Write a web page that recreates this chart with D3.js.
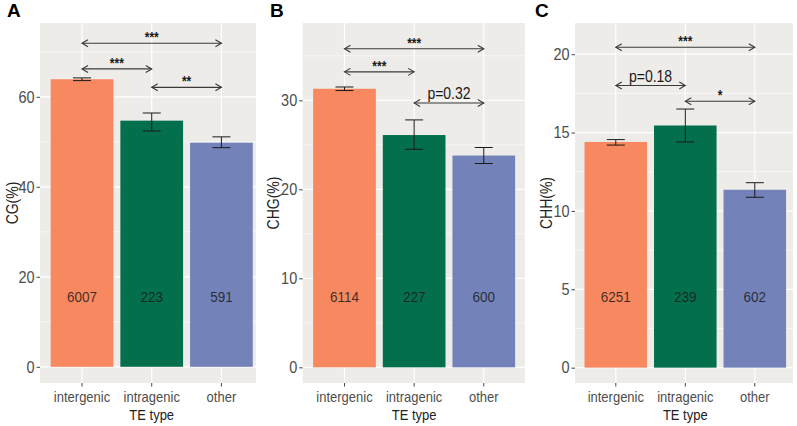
<!DOCTYPE html>
<html>
<head>
<meta charset="utf-8">
<script src="https://cdn.jsdelivr.net/npm/d3@7"></script>
<style>
  body { margin: 0; background: #fff; }
  text { font-family: "Liberation Sans", Arial, sans-serif; }
</style>
</head>
<body>
<div id="svg-container"></div>
<script>
// categorie e valori
var categories = ["intergenic", "intragenic", "other"];

var cgMean = [63.9, 54.7, 49.8];
var cgLow = [63.6, 52.4, 48.7];
var cgHigh = [64.2, 56.4, 51.1];
var cgCounts = [6007, 223, 591];
var cgTicks = [0, 20, 40, 60];
var cgSig = [
  { from: 0, to: 2, y: 71.9, label: "***" },
  { from: 0, to: 1, y: 66.2, label: "***" },
  { from: 1, to: 2, y: 62.1, label: "**" }
];

var chgMean = [31.3, 26.1, 23.8];
var chgLow = [31.1, 24.5, 22.9];
var chgHigh = [31.5, 27.8, 24.7];
var chgCounts = [6114, 227, 600];
var chgTicks = [0, 10, 20, 30];
var chgSig = [
  { from: 0, to: 2, y: 35.8, label: "***" },
  { from: 0, to: 1, y: 33.2, label: "***" },
  { from: 1, to: 2, y: 29.7, label: "p=0.32" }
];

var chhMean = [14.4, 15.45, 11.35];
var chhLow = [14.2, 14.4, 10.87];
var chhHigh = [14.55, 16.5, 11.8];
var chhCounts = [6251, 239, 602];
var chhTicks = [0, 5, 10, 15, 20];
var chhSig = [
  { from: 0, to: 2, y: 20.44, label: "***" },
  { from: 0, to: 1, y: 18.0, label: "p=0.18" },
  { from: 1, to: 2, y: 17.0, label: "*" }
];

var colors = ["#F7885F", "#046F4D", "#7383B9"];

var svg = d3.select("#svg-container")
  .append("svg")
  .attr("width", 797)
  .attr("height", 426);

// impostazioni dei tre pannelli
var panels = [
  { letter: "A", title: "CG(%)", mean: cgMean, low: cgLow, high: cgHigh, counts: cgCounts, ticks: cgTicks, sig: cgSig,
    domain: [-3.6, 76.4], left: 40, right: 256, start: 40.2, step: 69.7, letterX: 7, titleX: 18 },
  { letter: "B", title: "CHG(%)", mean: chgMean, low: chgLow, high: chgHigh, counts: chgCounts, ticks: chgTicks, sig: chgSig,
    domain: [-1.76, 38.69], left: 302.7, right: 525, start: 302.7, step: 69.65, letterX: 270, titleX: 279 },
  { letter: "C", title: "CHH(%)", mean: chhMean, low: chhLow, high: chhHigh, counts: chhCounts, ticks: chhTicks, sig: chhSig,
    domain: [-0.98, 21.99], left: 575, right: 793, start: 574.1, step: 69.5, letterX: 535, titleX: 552 }
];

var panelTop = 23, panelBottom = 383;
var stretch = "scale(1,1.15)"; // il testo nell'originale è un po' allungato in verticale

panels.forEach(function (p, pi) {
  var g = svg.append("g");

  var x = d3.scaleBand()
    .domain(categories)
    .range([p.start, p.start + p.step * 3.2])
    .paddingInner(0.1)
    .paddingOuter(0.15);

  var y = d3.scaleLinear()
    .domain(p.domain)
    .range([panelBottom, panelTop]);

  var clipId = "clip" + pi;
  g.append("clipPath").attr("id", clipId)
    .append("rect")
    .attr("x", p.left).attr("y", panelTop)
    .attr("width", p.right - p.left).attr("height", panelBottom - panelTop);

  // sfondo del pannello
  g.append("rect")
    .attr("x", p.left).attr("y", panelTop)
    .attr("width", p.right - p.left).attr("height", panelBottom - panelTop)
    .attr("fill", "#EEECE9");

  var inner = g.append("g").attr("clip-path", "url(#" + clipId + ")");

  // griglia minore
  var stepTick = p.ticks[1] - p.ticks[0];
  var minor = p.ticks.map(function (t) { return t + stepTick / 2; })
    .filter(function (t) { return y(t) > panelTop; });
  inner.selectAll(".minor").data(minor).enter().append("line")
    .attr("x1", p.left).attr("x2", p.right)
    .attr("y1", function (d) { return y(d); })
    .attr("y2", function (d) { return y(d); })
    .attr("stroke", "#fff").attr("stroke-width", 0.6);

  // griglia maggiore
  inner.selectAll(".major").data(p.ticks).enter().append("line")
    .attr("x1", p.left).attr("x2", p.right)
    .attr("y1", function (d) { return y(d); })
    .attr("y2", function (d) { return y(d); })
    .attr("stroke", "#fff").attr("stroke-width", 1.2);

  inner.selectAll(".vgrid").data(categories).enter().append("line")
    .attr("x1", function (d) { return x(d) + x.bandwidth() / 2; })
    .attr("x2", function (d) { return x(d) + x.bandwidth() / 2; })
    .attr("y1", panelTop).attr("y2", panelBottom)
    .attr("stroke", "#fff").attr("stroke-width", 1.2);

  // barre
  inner.selectAll(".bar").data(categories).enter().append("rect")
    .attr("x", function (d) { return x(d); })
    .attr("width", x.bandwidth())
    .attr("y", function (d, i) { return y(p.mean[i]); })
    .attr("height", function (d, i) { return y(0) - y(p.mean[i]); })
    .attr("fill", function (d, i) { return colors[i]; });

  // barre d'errore
  var cap = 9;
  categories.forEach(function (c, i) {
    var cx = x(c) + x.bandwidth() / 2;
    var eb = inner.append("g").attr("stroke", "#1a1a1a").attr("stroke-width", 1);
    eb.append("line").attr("x1", cx).attr("x2", cx).attr("y1", y(p.low[i])).attr("y2", y(p.high[i]));
    eb.append("line").attr("x1", cx - cap).attr("x2", cx + cap).attr("y1", y(p.low[i])).attr("y2", y(p.low[i]));
    eb.append("line").attr("x1", cx - cap).attr("x2", cx + cap).attr("y1", y(p.high[i])).attr("y2", y(p.high[i]));
  });

  // numeri dentro le barre
  inner.selectAll(".count").data(categories).enter().append("text")
    .attr("transform", function (d) {
      return "translate(" + (x(d) + x.bandwidth() / 2) + ",302) " + stretch;
    })
    .attr("text-anchor", "middle")
    .attr("font-size", "13.5px")
    .attr("fill", "#1a1a1a")
    .attr("fill-opacity", 0.85)
    .text(function (d, i) { return p.counts[i]; });

  // confronti con frecce
  p.sig.forEach(function (s) {
    var x1 = x(categories[s.from]) + x.bandwidth() / 2;
    var x2 = x(categories[s.to]) + x.bandwidth() / 2;
    var yy = y(s.y);
    var ag = inner.append("g").attr("stroke", "#3a3a3a").attr("stroke-width", 1.1).attr("fill", "none");
    ag.append("line").attr("x1", x1).attr("x2", x2).attr("y1", yy).attr("y2", yy);
    ag.append("path").attr("d", "M" + (x1 + 6) + "," + (yy - 3.5) + "L" + x1 + "," + yy + "L" + (x1 + 6) + "," + (yy + 3.5));
    ag.append("path").attr("d", "M" + (x2 - 6) + "," + (yy - 3.5) + "L" + x2 + "," + yy + "L" + (x2 - 6) + "," + (yy + 3.5));
    var isStar = s.label.indexOf("p") < 0;
    inner.append("text")
      .attr("transform", "translate(" + ((x1 + x2) / 2) + "," + (isStar ? yy - 1 : yy - 4) + ") " + stretch)
      .attr("text-anchor", "middle")
      .attr("font-size", isStar ? "12px" : "14px")
      .attr("font-weight", isStar ? "bold" : "normal")
      .attr("fill", "#1a1a1a")
      .text(s.label);
  });

  // asse y
  var yAxis = g.append("g")
    .attr("transform", "translate(" + p.left + ",0)")
    .call(d3.axisLeft(y).tickValues(p.ticks).tickSize(3.5).tickPadding(2));
  yAxis.select(".domain").remove();
  yAxis.selectAll(".tick line").attr("stroke", "#444");
  yAxis.selectAll(".tick text")
    .attr("fill", "#4D4D4D")
    .attr("font-size", "14.5px")
    .attr("transform", stretch)
    .attr("font-family", "'Liberation Sans', Arial, sans-serif");

  // asse x
  var xAxis = g.append("g")
    .attr("transform", "translate(0," + panelBottom + ")")
    .call(d3.axisBottom(x).tickSize(3.5).tickPadding(3.5));
  xAxis.select(".domain").remove();
  xAxis.selectAll(".tick line").attr("stroke", "#444");
  xAxis.selectAll(".tick text")
    .attr("fill", "#4D4D4D")
    .attr("font-size", "13px")
    .attr("transform", stretch)
    .attr("font-family", "'Liberation Sans', Arial, sans-serif");

  // titolo asse x
  g.append("text")
    .attr("transform", "translate(" + (x(categories[1]) + x.bandwidth() / 2) + ",420) " + stretch)
    .attr("text-anchor", "middle")
    .attr("font-size", "13px")
    .attr("fill", "#222")
    .text("TE type");

  // titolo asse y
  g.append("text")
    .attr("transform", "translate(" + p.titleX + ",203) rotate(-90) " + stretch)
    .attr("text-anchor", "middle")
    .attr("font-size", "14px")
    .attr("fill", "#222")
    .text(p.title);

  // lettera del pannello
  g.append("text")
    .attr("x", p.letterX)
    .attr("y", 17)
    .attr("font-size", "19px")
    .attr("font-weight", "bold")
    .attr("fill", "#000")
    .text(p.letter);
});
</script>
</body>
</html>
